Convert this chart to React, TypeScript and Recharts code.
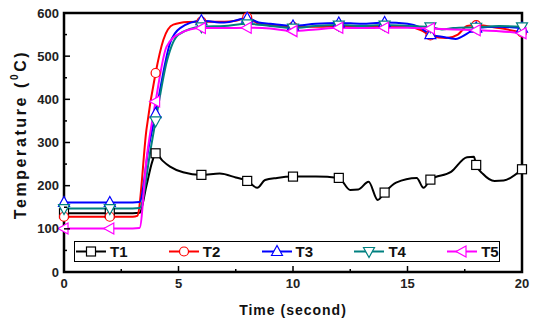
import { LineChart, Line, XAxis, YAxis, ReferenceArea, Label } from 'recharts';

const t1Time = [0, 1, 2, 3, 3.3, 3.6, 3.85, 4, 4.3, 4.63, 5.2, 6, 6.8, 7.5, 8, 8.44, 8.78, 9.3, 10, 11, 12, 12.5, 12.85, 13.3, 13.7, 14, 14.5, 15.4, 15.7, 16, 16.9, 17.6, 17.9, 18, 18.3, 18.8, 19.2, 20];
const t1Temp = [136, 136, 136, 136, 137, 200, 255, 275, 258, 244, 231, 225, 228, 219, 211, 195, 213, 218, 221, 221, 218, 190, 191, 209, 167, 184, 207, 218, 195, 214, 232, 266, 267, 248, 227, 211, 212, 238];

const t2Time = [0, 1, 2, 3, 3.2, 3.6, 4, 4.34, 4.77, 5.4, 6, 7, 7.5, 8, 8.5, 9, 10, 11, 12, 13, 14, 15, 15.6, 16, 16.7, 17.2, 17.6, 18, 19, 20];
const t2Temp = [128, 128, 128, 128, 130, 330, 461, 538, 573, 579, 580, 580, 582, 590, 575, 572, 568, 568, 570, 568, 570, 568, 560, 548, 542, 550, 570, 572, 565, 555];

const t3Time = [0, 1, 2, 3, 3.3, 3.7, 4, 4.63, 5.07, 6, 7, 8, 8.5, 9, 10, 11, 12, 13, 14, 15, 15.5, 16, 16.5, 17.1, 17.6, 18, 19, 20];
const t3Temp = [161, 161, 161, 161, 162, 290, 367, 530, 565, 582, 578, 588, 578, 575, 570, 575, 577, 575, 578, 575, 568, 550, 545, 540, 552, 565, 568, 565];

const t4Time = [0, 1, 2, 3, 3.3, 3.8, 4, 4.5, 5, 6, 7, 8, 9, 10, 11, 12, 13, 14, 15, 16, 16.5, 17, 18, 19, 20];
const t4Temp = [147, 147, 147, 147, 148, 290, 350, 490, 550, 568, 570, 575, 570, 565, 570, 572, 570, 572, 570, 568, 562, 565, 567, 570, 568];

const t5Time = [0, 1, 2, 3, 3.3, 3.6, 4, 4.48, 5.07, 6, 7, 8, 9, 10, 11, 12, 13, 14, 15, 16, 17, 18, 19, 20];
const t5Temp = [101, 101, 101, 101, 102, 260, 395, 522, 553, 565, 565, 566, 564, 558, 562, 566, 565, 566, 566, 564, 562, 560, 558, 553];

const markerTimes = [0, 2, 4, 6, 8, 10, 12, 14, 16, 18, 20];
const xTicks = [0, 2.5, 5, 7.5, 10, 12.5, 15, 17.5, 20];
const yTicks = [0, 50, 100, 150, 200, 250, 300, 350, 400, 450, 500, 550, 600];

const series = [
  { name: 'T1', color: '#000000', shape: 'square', time: t1Time, temp: t1Temp },
  { name: 'T2', color: '#ff0000', shape: 'circle', time: t2Time, temp: t2Temp },
  { name: 'T3', color: '#0000ff', shape: 'up', time: t3Time, temp: t3Temp },
  { name: 'T4', color: '#008080', shape: 'down', time: t4Time, temp: t4Temp },
  { name: 'T5', color: '#ff00ff', shape: 'left', time: t5Time, temp: t5Temp },
];

const Marker = ({ cx, cy, shape, color }: any) => {
  const common = { fill: '#fff', stroke: color, strokeWidth: 1.2 };
  if (shape === 'square') return <rect x={cx - 4.5} y={cy - 4.5} width={9} height={9} {...common} />;
  if (shape === 'circle') return <circle cx={cx} cy={cy} r={4.5} {...common} />;
  if (shape === 'up') return <polygon points={`${cx},${cy - 6} ${cx - 5.5},${cy + 4} ${cx + 5.5},${cy + 4}`} {...common} />;
  if (shape === 'down') return <polygon points={`${cx},${cy + 6} ${cx - 5.5},${cy - 4} ${cx + 5.5},${cy - 4}`} {...common} />;
  return <polygon points={`${cx - 6},${cy} ${cx + 4},${cy - 5.5} ${cx + 4},${cy + 5.5}`} {...common} />;
};

const makeDot = (s: any) => (props: any) => {
  const { cx, cy, payload, index } = props;
  if (!markerTimes.includes(payload.t)) return <g key={`${s.name}-${index}`} />;
  return (
    <g key={`${s.name}-${index}`}>
      <Marker cx={cx} cy={cy} shape={s.shape} color={s.color} />
    </g>
  );
};

const XTick = ({ x, y, payload }: any) => {
  const major = payload.value % 5 === 0;
  return (
    <g>
      <line x1={x} y1={y} x2={x} y2={y - (major ? 6 : 3)} stroke="#000" strokeWidth={1.5} />
      {major && (
        <text x={x} y={y + 16} textAnchor="middle" fontSize={13} fontWeight="bold" fill="#222">
          {payload.value}
        </text>
      )}
    </g>
  );
};

const YTick = ({ x, y, payload }: any) => {
  const major = payload.value % 100 === 0;
  return (
    <g>
      <line x1={x} y1={y} x2={x + (major ? 6 : 3)} y2={y} stroke="#000" strokeWidth={1.5} />
      {major && (
        <text x={x - 5} y={y + 4.5} textAnchor="end" fontSize={13} fontWeight="bold" fill="#222">
          {payload.value}
        </text>
      )}
    </g>
  );
};

const YTitle = (props: any) => {
  const vb = props.viewBox;
  const cx = 20;
  const cy = vb.y + vb.height / 2 - 8;
  return (
    <text x={cx} y={cy} transform={`rotate(-90, ${cx}, ${cy})`} textAnchor="middle" dominantBaseline="central" fontSize={16} fontWeight="bold" fill="#111" letterSpacing={2.6}>
      Temperature (<tspan fontSize={10} dy={-6}>0</tspan><tspan dy={6}>C)</tspan>
    </text>
  );
};

const XTitle = (props: any) => {
  const vb = props.viewBox;
  return (
    <text x={vb.x + vb.width / 2} y={315} textAnchor="middle" fontSize={14} fontWeight="bold" fill="#111" letterSpacing={1}>
      Time (second)
    </text>
  );
};

const LegendBox = () => (
  <div style={{ position: 'absolute', left: 74, top: 241, width: 426, height: 21, border: '1px solid #000', boxSizing: 'border-box', background: '#fff', fontFamily: 'Liberation Sans, Arial, sans-serif' }}>
    {series.map((s, i) => (
      <div key={s.name} style={{ position: 'absolute', left: 0 + i * 92.8, top: 0, height: 19, display: 'flex', alignItems: 'center' }}>
        <svg width={32} height={19}>
          <line x1={1} y1={9.5} x2={31} y2={9.5} stroke={s.color} strokeWidth={2} />
          <Marker cx={16} cy={9.5} shape={s.shape} color={s.color} />
        </svg>
        <span style={{ fontSize: 15, fontWeight: 'bold', color: '#111', marginLeft: 3 }}>{s.name}</span>
      </div>
    ))}
  </div>
);

export default function App() {
  return (
    <div style={{ position: 'absolute', left: 0, top: 0, width: 538, height: 320, background: '#fff', fontFamily: 'Liberation Sans, Arial, sans-serif' }}>
      <LineChart width={538} height={320} margin={{ top: 13, right: 16, bottom: 0, left: 0 }}>
        <XAxis type="number" dataKey="t" domain={[0, 20]} ticks={xTicks} interval={0} height={48} tickLine={false} axisLine={false} tickSize={0} tickMargin={0} tick={<XTick />}>
          <Label content={<XTitle />} />
        </XAxis>
        <YAxis type="number" domain={[0, 600]} ticks={yTicks} interval={0} width={64} tickLine={false} axisLine={false} tickSize={0} tickMargin={0} tick={<YTick />}>
          <Label content={<YTitle />} />
        </YAxis>
        {series.map((s) => (
          <Line
            key={s.name}
            name={s.name}
            data={s.time.map((t, i) => ({ t, v: s.temp[i] }))}
            dataKey="v"
            type="monotone"
            stroke={s.color}
            strokeWidth={2}
            dot={makeDot(s)}
            activeDot={false}
            isAnimationActive={false}
          />
        ))}
        <ReferenceArea x1={0} x2={20} y1={0} y2={600} fill="none" stroke="#000" strokeWidth={2.5} />
      </LineChart>
      <LegendBox />
    </div>
  );
}
